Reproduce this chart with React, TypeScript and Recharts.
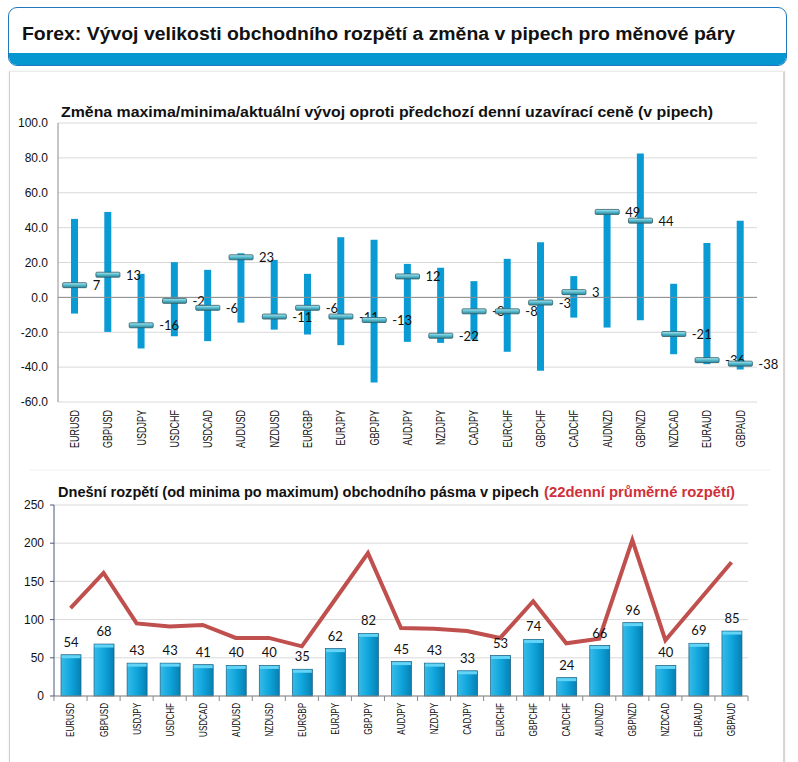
import {
  Bar,
  CartesianGrid,
  ComposedChart,
  LabelList,
  Line,
  ReferenceLine,
  XAxis,
  YAxis,
} from "recharts";

const pairs = [
  "EURUSD", "GBPUSD", "USDJPY", "USDCHF", "USDCAD", "AUDUSD", "NZDUSD",
  "EURGBP", "EURJPY", "GBPJPY", "AUDJPY", "NZDJPY", "CADJPY", "EURCHF",
  "GBPCHF", "CADCHF", "AUDNZD", "GBPNZD", "NZDCAD", "EURAUD", "GBPAUD",
];
const highs = [45, 49, 13.5, 20.2, 15.8, 25.3, 21.5, 13.5, 34.5, 33, 19.2, 17, 9.3, 22.1, 31.6, 12.2, 49.7, 82.5, 7.8, 31.2, 44];
const lows = [-9.3, -19.8, -29.3, -22.3, -25.1, -14.5, -18.5, -21.3, -27.4, -48.8, -25.5, -26.1, -24.2, -31.2, -42.1, -11.6, -17.3, -13.1, -32.6, -38.3, -41.3];
const current = [7, 13, -16, -2, -6, 23, -11, -6, -11, -13, 12, -22, -8, -8, -3, 3, 49, 44, -21, -36, -38];
const todayRange = [54, 68, 43, 43, 41, 40, 40, 35, 62, 82, 45, 43, 33, 53, 74, 24, 66, 96, 40, 69, 85];
const avgRange = [115, 161, 95, 91, 93, 76, 76, 65, 126, 187, 89, 88, 85, 76, 124, 69, 75, 204, 73, 124, 175];

const changeTicks = [-60, -40, -20, 0, 20, 40, 60, 80, 100];
const rangeTicks = [0, 50, 100, 150, 200, 250];

const changeData = pairs.map((pair, i) => ({
  pair,
  range: [lows[i], highs[i]],
  current: current[i],
}));
const rangeData = pairs.map((pair, i) => ({
  pair,
  today: todayRange[i],
  avg: avgRange[i],
}));

const SANS = "'Liberation Sans', Arial, sans-serif";
const NUM = "Lato, 'Open Sans', sans-serif";

function RotatedTick(props: any) {
  const { x, payload, top, size, squeeze, boundary, bandwidth, index } = props;
  return (
    <g>
      {boundary && (
        <>
          <line x1={x + bandwidth / 2} x2={x + bandwidth / 2} y1={boundary} y2={boundary + 5} stroke="#8a8a8a" />
          {index === 0 && (
            <line x1={x - bandwidth / 2} x2={x - bandwidth / 2} y1={boundary} y2={boundary + 5} stroke="#8a8a8a" />
          )}
        </>
      )}
      <text
        transform={`translate(${x},${top}) rotate(-90) scale(${squeeze},1)`}
        textAnchor="end"
        dy={size * 0.36}
        fontSize={size}
        fontFamily={SANS}
        fill="#111"
      >
        {payload.value}
      </text>
    </g>
  );
}

function Marker(props: any) {
  const { cx, cy, value } = props;
  if (cx == null || cy == null) return null;
  return (
    <g>
      <rect x={cx - 12} y={cy - 2.5} width={24} height={5} rx={1} fill="url(#markerGrad)" stroke="#2e5d67" strokeWidth={0.8} />
      <text x={cx + 18} y={cy + 5} fontSize={13} fontFamily={NUM} fill="#111">
        {value}
      </text>
    </g>
  );
}

function GlossyBar(props: any) {
  const { x, y, width, height } = props;
  if (!height) return null;
  return (
    <g>
      <rect x={x} y={y} width={width} height={height} fill="url(#barGrad)" stroke="#1b5e7e" strokeWidth={0.7} />
      <rect x={x + 0.5} y={y + 0.5} width={width - 1} height={3} fill="#63d4f6" />
    </g>
  );
}

export default function App() {
  return (
    <div style={{ position: "fixed", left: 0, top: 0, width: 798, height: 762, background: "#fff", overflow: "hidden" }}>
      {/* header box */}
      <div
        style={{
          position: "absolute",
          left: 8,
          top: 7,
          width: 777,
          height: 57,
          border: "1.5px solid #2078bd",
          borderRadius: 9,
          overflow: "hidden",
          background: "#fff",
        }}
      >
        <div style={{ position: "absolute", left: 0, right: 0, bottom: 0, height: 12, background: "#0797d0" }} />
        <svg width={777} height={45} style={{ position: "absolute", left: 0, top: 0 }}>
          <text x={13} y={32} fontSize={18} fontWeight={700} fontFamily={SANS} fill="#111" textLength={713} lengthAdjust="spacingAndGlyphs">
            Forex: Vývoj velikosti obchodního rozpětí a změna v pipech pro měnové páry
          </text>
        </svg>
      </div>

      {/* panel */}
      <div
        style={{
          position: "absolute",
          left: 9,
          top: 71,
          width: 773,
          height: 700,
          borderLeft: "1px solid #cfcfcf",
          borderRight: "2px solid #d6d6d6",
          borderTop: "1px solid #ececec",
          boxShadow: "0 0 3px rgba(0,0,0,0.08)",
        }}
      />

      <svg width={798} height={762} style={{ position: "absolute", left: 0, top: 0, pointerEvents: "none" }}>
        <text x={61} y={117} fontSize={14.5} fontWeight={700} fontFamily={SANS} fill="#111" textLength={652} lengthAdjust="spacingAndGlyphs">
          Změna maxima/minima/aktuální vývoj oproti předchozí denní uzavírací ceně (v pipech)
        </text>
        <line x1={30} x2={770} y1={470} y2={470} stroke="#f0f0f0" />
        <text x={58} y={497} fontSize={14} fontWeight={700} fontFamily={SANS} fill="#111" textLength={481} lengthAdjust="spacingAndGlyphs">
          Dnešní rozpětí (od minima po maximum) obchodního pásma v pipech
        </text>
        <text x={544} y={497} fontSize={14} fontWeight={700} fontFamily={SANS} fill="#d0303a" textLength={191} lengthAdjust="spacingAndGlyphs">
          (22denní průměrné rozpětí)
        </text>
      </svg>

      {/* top chart */}
      <div style={{ position: "absolute", left: 0, top: 100 }}>
        <ComposedChart width={790} height={370} data={changeData} margin={{ top: 23, right: 33, bottom: 8, left: 0 }}>
          <defs>
            <linearGradient id="markerGrad" x1="0" y1="0" x2="0" y2="1">
              <stop offset="0%" stopColor="#b6e9f2" />
              <stop offset="45%" stopColor="#5cc0d4" />
              <stop offset="100%" stopColor="#2b8597" />
            </linearGradient>
          </defs>
          <CartesianGrid vertical={false} stroke="#d9d9d9" />
          <XAxis
            dataKey="pair"
            interval={0}
            axisLine={false}
            tickLine={false}
            height={60}
            tick={(p: any) => <RotatedTick {...p} top={310} size={12} squeeze={0.75} />}
          />
          <YAxis
            domain={[-60, 100]}
            ticks={changeTicks}
            width={58}
            tickFormatter={(v: number) => v.toFixed(1)}
            axisLine={{ stroke: "#8c8c8c" }}
            tickLine={false}
            tickMargin={4}
            tick={{ fontSize: 12, fill: "#111", fontFamily: SANS }}
          />
          <ReferenceLine y={0} stroke="#8c8c8c" />
          <Bar dataKey="range" barSize={7} fill="#0b9bd4" isAnimationActive={false} />
          <Line dataKey="current" stroke="none" dot={(p: any) => <Marker key={p.index} {...p} />} activeDot={false} isAnimationActive={false} />
        </ComposedChart>
      </div>

      {/* bottom chart */}
      <div style={{ position: "absolute", left: 0, top: 480 }}>
        <ComposedChart width={790} height={271} data={rangeData} margin={{ top: 25, right: 42, bottom: 5, left: 0 }} barCategoryGap="40%">
          <defs>
            <linearGradient id="barGrad" x1="0" y1="0" x2="1" y2="0">
              <stop offset="0%" stopColor="#36bbe8" />
              <stop offset="50%" stopColor="#0fa5dc" />
              <stop offset="100%" stopColor="#0680b3" />
            </linearGradient>
          </defs>
          <CartesianGrid vertical={false} stroke="#d9d9d9" />
          <XAxis
            dataKey="pair"
            interval={0}
            axisLine={{ stroke: "#8a8a8a" }}
            tickLine={false}
            height={50}
            tick={(p: any) => (
              <RotatedTick {...p} top={223} size={11} squeeze={0.73} boundary={216} bandwidth={33.05} />
            )}
          />
          <YAxis
            domain={[0, 250]}
            ticks={rangeTicks}
            width={54}
            axisLine={{ stroke: "#4b5a78" }}
            tickLine={{ stroke: "#4b5a78" }}
            tickSize={4}
            tickMargin={6}
            tick={{ fontSize: 12, fill: "#111", fontFamily: SANS }}
          />
          <Bar dataKey="today" barSize={20} shape={(p: any) => <GlossyBar {...p} />} isAnimationActive={false}>
            <LabelList dataKey="today" position="top" offset={8} fontSize={13} fontFamily={NUM} fill="#111" />
          </Bar>
          <Line dataKey="avg" type="linear" stroke="#c0504d" strokeWidth={4} dot={false} activeDot={false} isAnimationActive={false} />
        </ComposedChart>
      </div>
    </div>
  );
}
